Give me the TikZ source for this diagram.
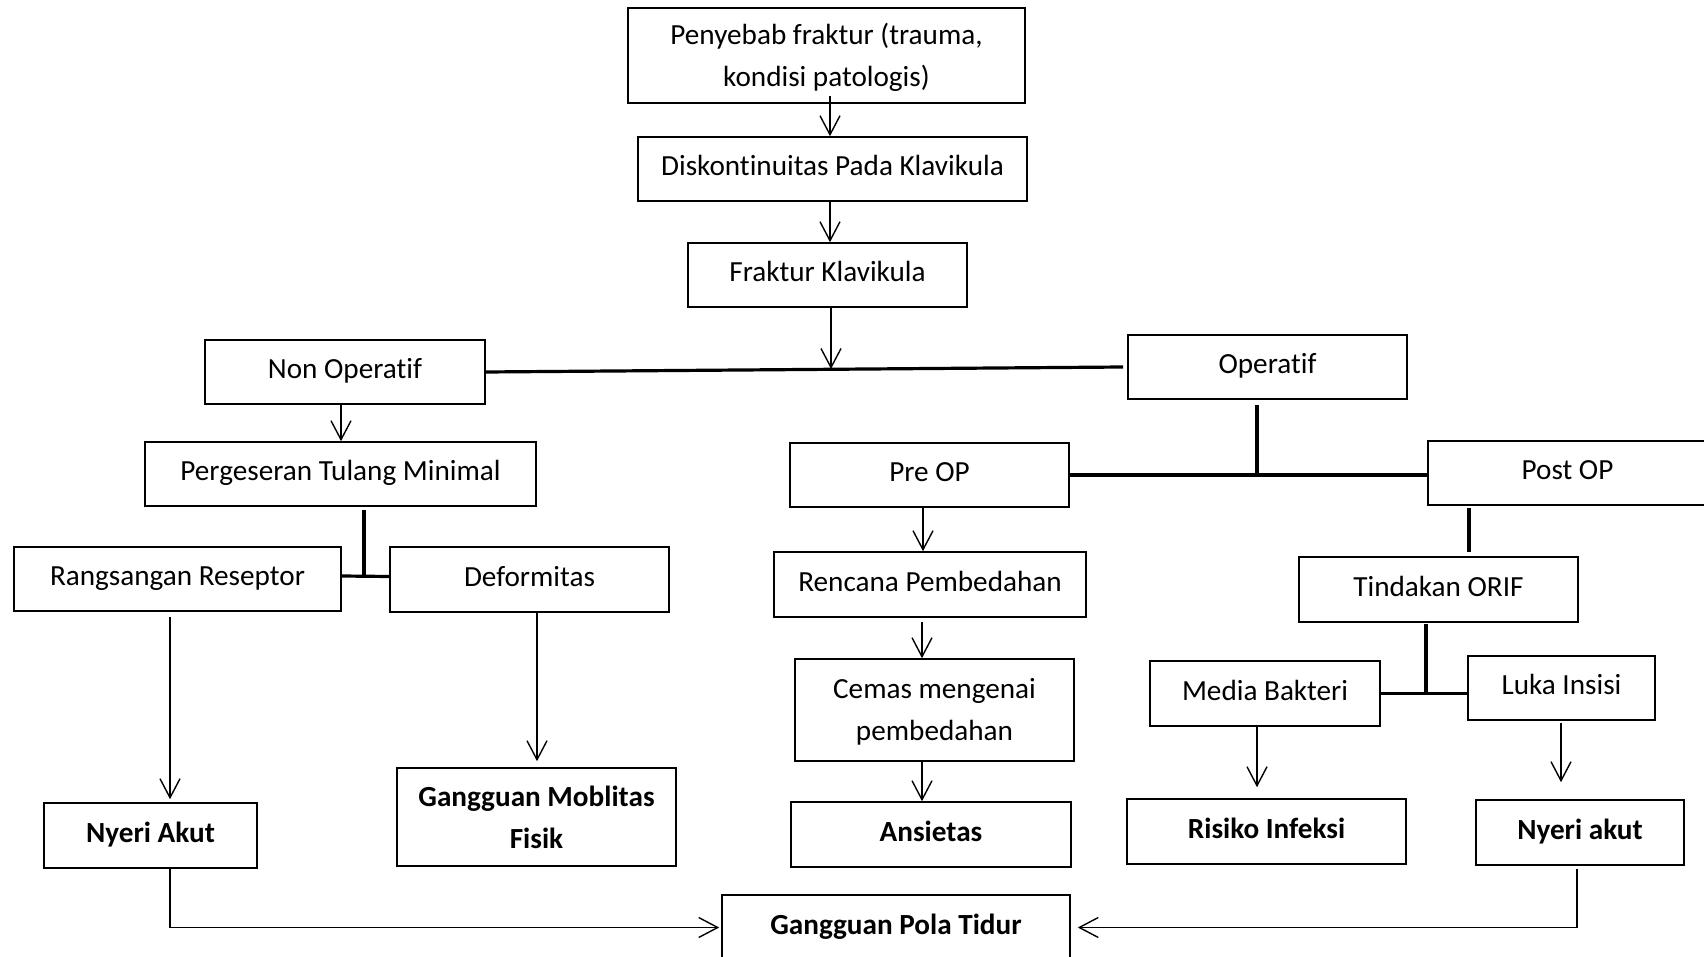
\documentclass[tikz,border=0pt]{standalone}
\usepackage{fontspec}
\setmainfont[Ligatures=NoCommon]{Carlito}
\usetikzlibrary{arrows.meta}
\begin{document}
\begin{tikzpicture}[x=0.5pt,y=-0.5pt,
  mbox/.style={draw, line width=0.8pt, inner sep=0pt, align=center,
    font=\fontsize{14.6}{21}\selectfont},
  mbbox/.style={mbox, font=\fontsize{14.6}{21}\selectfont\bfseries},
  box/.style={mbox, text height=10pt, text depth=3.5pt},
  bbox/.style={mbbox, text height=10pt, text depth=3.5pt},
  arr/.style={line width=0.7pt, -{Straight Barb[length=9.5pt,width=10pt,line width=0.7pt]}},
  thk/.style={line width=1.6pt}]
\clip (0,0) rectangle (1704,957);
\fill[white] (0,0) rectangle (1704,957);
% boxes
\node[mbox, minimum width=198.5pt, minimum height=47.5pt] (pen) at (826.5,55.5) {\rule{0pt}{13pt}Penyebab fraktur (trauma,\\kondisi patologis)};
\node[box, minimum width=194.5pt, minimum height=32pt] (disk) at (832.5,169) {Diskontinuitas Pada Klavikula};
\node[box, minimum width=139.5pt, minimum height=32pt] (frak) at (827.5,275) {Fraktur Klavikula};
\node[box, minimum width=140pt, minimum height=32pt] (nonop) at (345,372) {Non Operatif};
\node[box, minimum width=139.5pt, minimum height=32pt] (op) at (1267.5,367) {Operatif};
\node[box, minimum width=195.5pt, minimum height=32pt] (perg) at (340.5,474) {Pergeseran Tulang Minimal};
\node[box, minimum width=163.5pt, minimum height=32pt] (rang) at (177.5,579) {Rangsangan Reseptor};
\node[box, minimum width=139.5pt, minimum height=32.5pt] (def) at (529.5,579.5) {Deformitas};
\node[box, minimum width=139.5pt, minimum height=32pt] (pre) at (929.5,475) {Pre OP};
\node[box, minimum width=139.5pt, minimum height=32pt] (post) at (1567.5,473) {Post OP};
\node[box, minimum width=156pt, minimum height=32.5pt] (renc) at (930,584.5) {Rencana Pembedahan};
\node[box, minimum width=139.5pt, minimum height=32.5pt] (tind) at (1438.5,589.5) {Tindakan ORIF};
\node[mbox, minimum width=139.5pt, minimum height=51pt] (cemas) at (934.5,710) {\rule{0pt}{12pt}Cemas mengenai\\pembedahan};
\node[box, minimum width=115pt, minimum height=32.5pt] (media) at (1265,693.5) {Media Bakteri};
\node[box, minimum width=93.5pt, minimum height=32pt] (luka) at (1561.5,688) {Luka Insisi};
\node[bbox, minimum width=140pt, minimum height=32.5pt] (ans) at (931,834.5) {Ansietas};
\node[bbox, minimum width=139.5pt, minimum height=32.5pt] (risk) at (1266.5,831.5) {Risiko Infeksi};
\node[bbox, minimum width=104pt, minimum height=32.5pt] (nyr) at (1580,832.5) {Nyeri akut};
\node[bbox, minimum width=174pt, minimum height=32.5pt] (gpt) at (896,927.5) {Gangguan Pola Tidur};
\node[bbox, minimum width=106.5pt, minimum height=32.5pt] (nyl) at (150.5,835.5) {Nyeri Akut};
\node[mbbox, minimum width=139.5pt, minimum height=49pt] (gmf) at (536.5,817) {Gangguan Moblitas\\Fisik};
% junction coordinates
\coordinate (j1) at (831,369);
\coordinate (j2) at (364,576);
\coordinate (j3) at (1257,474);
\coordinate (j4) at (1426,693);
% top chain
\draw[arr] ([xshift=1.75pt,yshift=4pt]pen.south) -- ([xshift=-1.25pt]disk.north);
\draw[arr] ([xshift=-1.25pt]disk.south) -- ([xshift=1.25pt]frak.north);
\draw[arr] ([xshift=1.75pt]frak.south) -- (j1);
\draw[thk] (nonop.east) -- ([xshift=-2pt]op.west);
% non operatif branch
\draw[arr] ([xshift=-2pt]nonop.south) -- ([xshift=0.25pt]perg.north);
\draw[thk] ([xshift=11.75pt,yshift=-1.5pt]perg.south) -- (j2);
\draw[thk] ([yshift=1.5pt]rang.east) -- ([yshift=1.5pt]def.west);
\draw[arr] ([xshift=-3.75pt,yshift=-2.5pt]rang.south) -- ([xshift=9.75pt,yshift=1.5pt]nyl.north);
\draw[arr] ([xshift=3.75pt]def.south) -- ([xshift=0.25pt,yshift=3pt]gmf.north);
\draw[arr] ([xshift=9.75pt]nyl.south) |- ([xshift=-1pt]gpt.west);
% operatif branch
\draw[thk] ([xshift=-5.25pt,yshift=-2.5pt]op.south) -- (j3);
\draw[thk] (pre.east) -- (post.west |- pre.east);
\draw[arr] ([xshift=-3.25pt]pre.south) -- ([xshift=-3.5pt]renc.north);
\draw[arr] ([xshift=-4pt,yshift=-2pt]renc.south) -- ([xshift=-6.25pt]cemas.north);
\draw[arr] ([xshift=-6.25pt]cemas.south) -- ([xshift=-4.5pt]ans.north);
\draw[thk] ([xshift=-49.25pt,yshift=-1pt]post.south) -- ([xshift=15.25pt,yshift=2pt]tind.north);
\draw[thk] ([xshift=-6.25pt,yshift=-0.5pt]tind.south) -- (j4);
\draw[thk] (media.east) -- (media.east -| luka.west);
\draw[arr] ([xshift=-4pt]media.south) -- ([xshift=-4.75pt,yshift=5.5pt]risk.north);
\draw[arr] ([xshift=-0.25pt,yshift=-1pt]luka.south) -- ([xshift=-9.5pt,yshift=8.5pt]nyr.north);
\draw[arr] ([xshift=-1.5pt,yshift=-1.5pt]nyr.south) |- ([xshift=3.5pt]gpt.east);
\end{tikzpicture}
\end{document}
